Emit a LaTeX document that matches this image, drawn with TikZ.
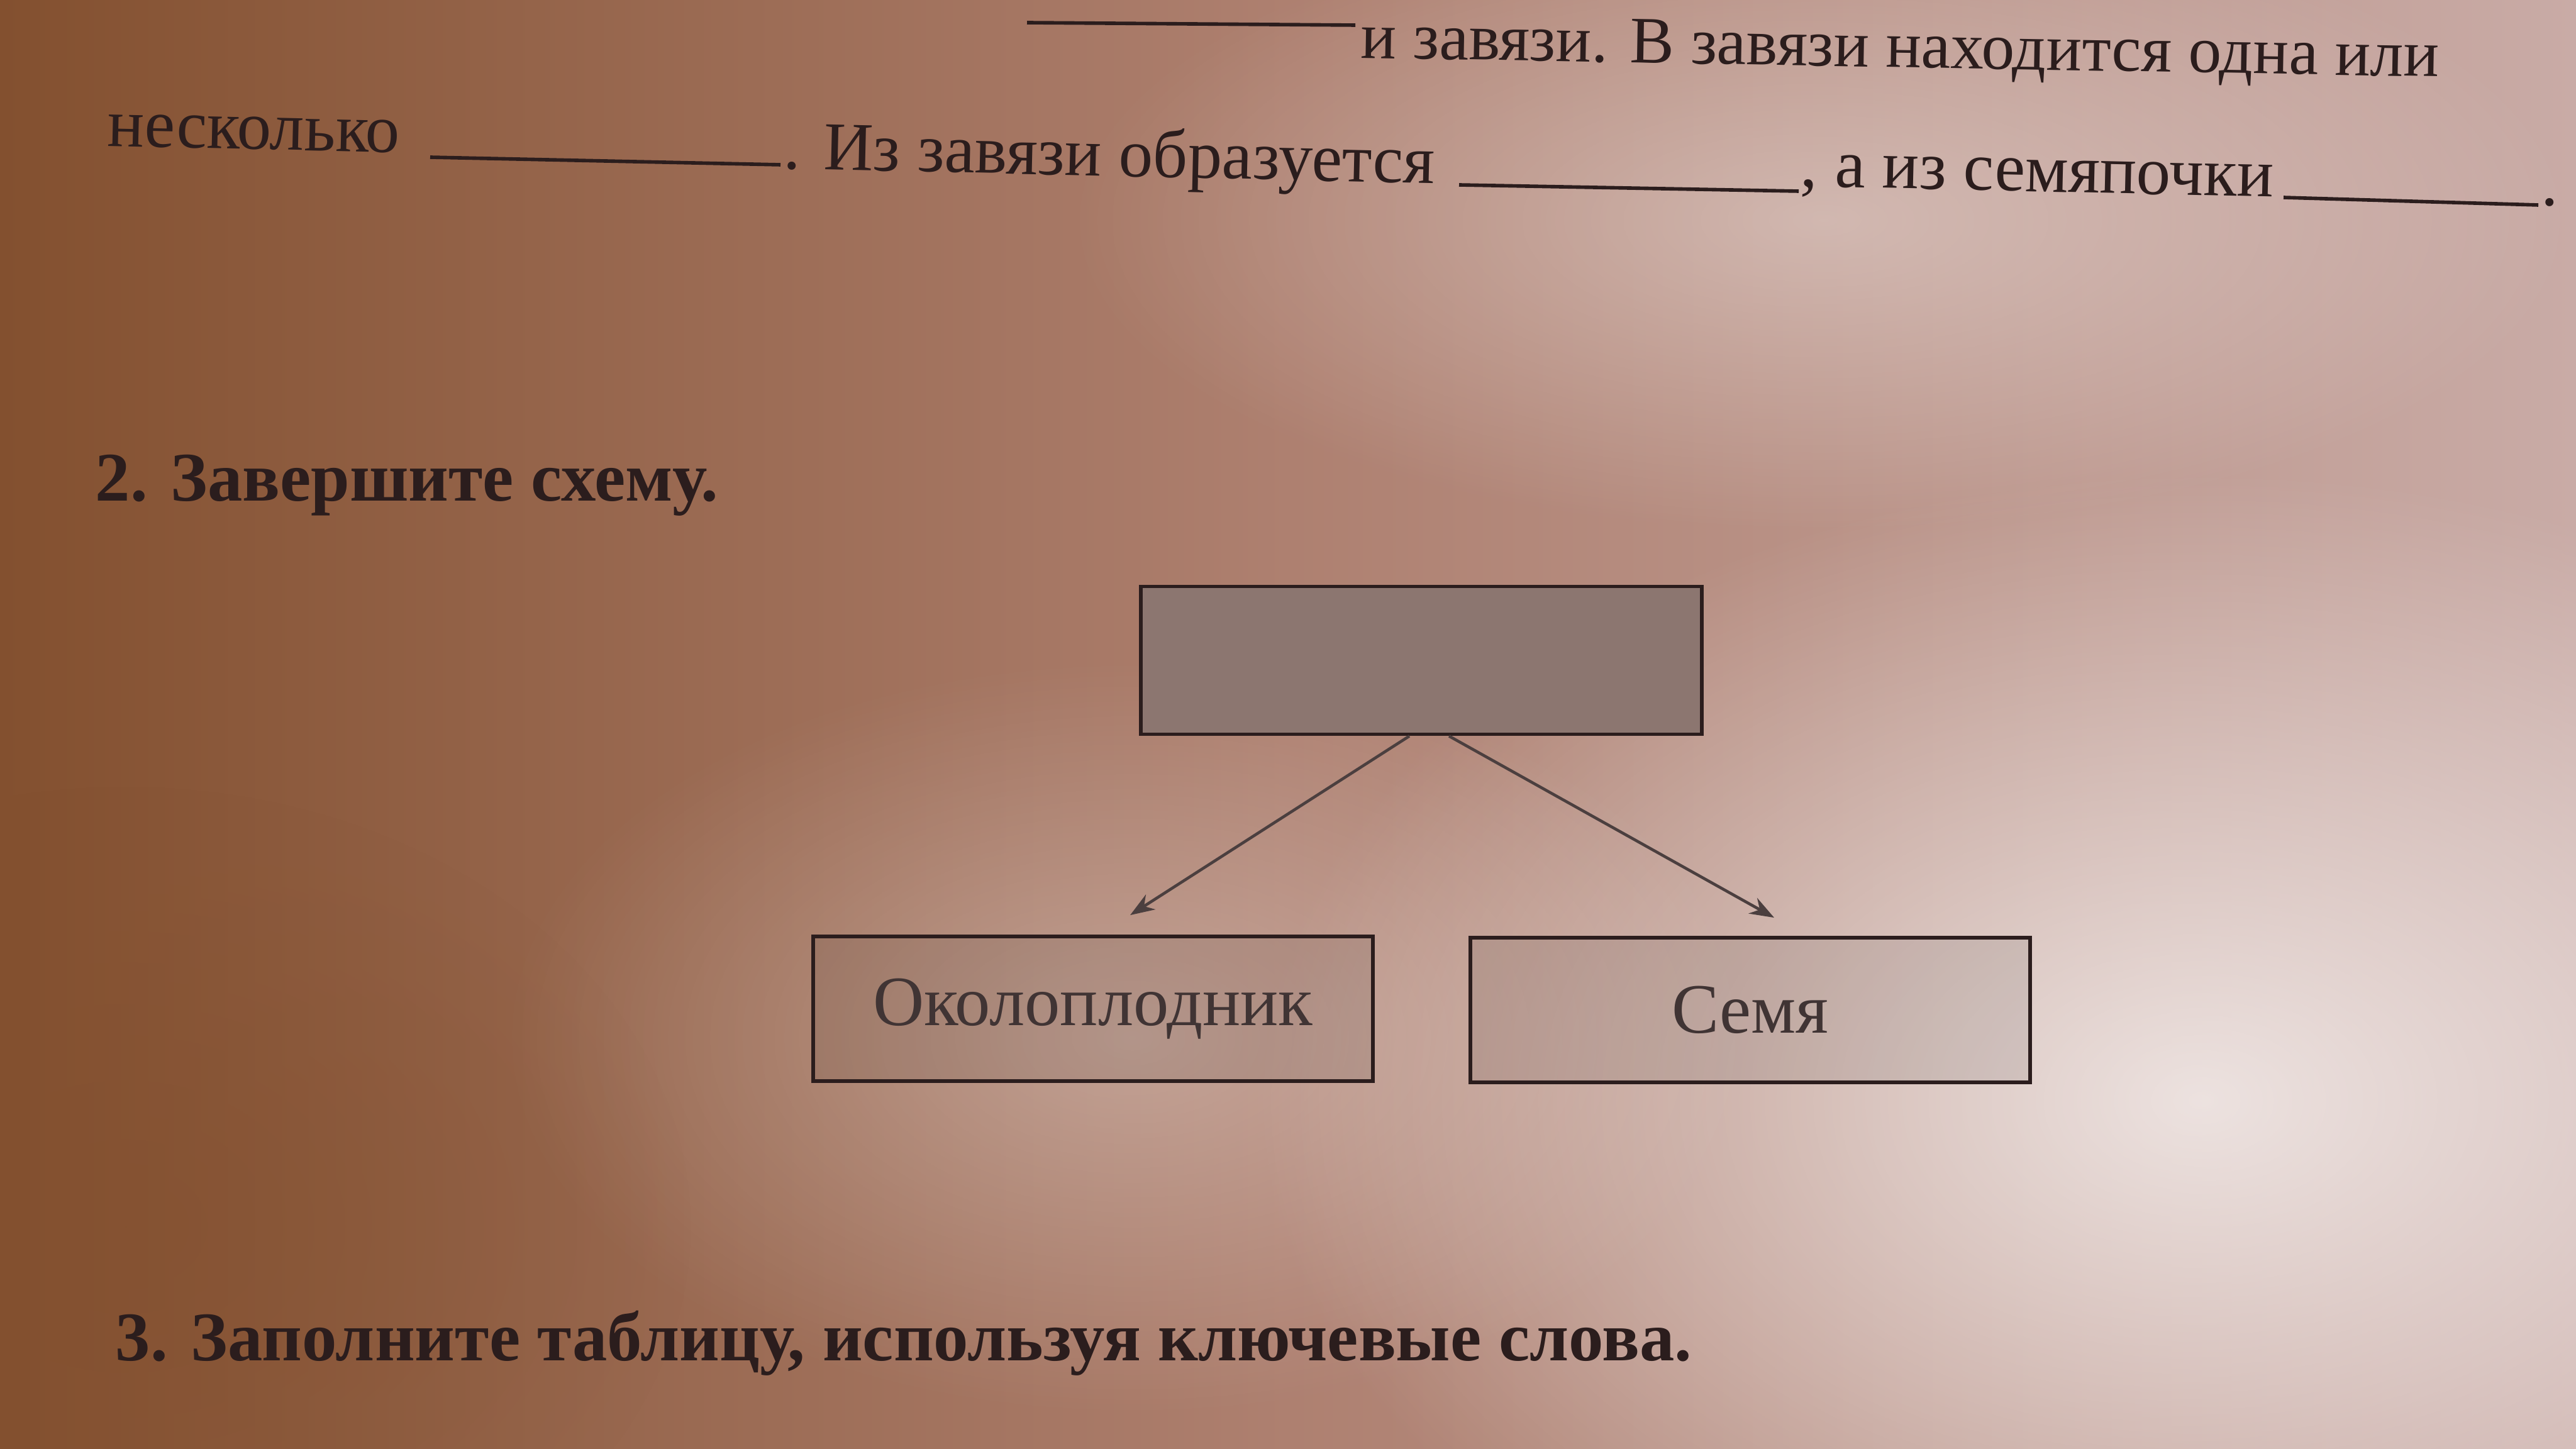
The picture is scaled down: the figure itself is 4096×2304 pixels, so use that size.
\documentclass[tikz,border=0pt]{standalone}
\usepackage{fontspec}
\setmainfont{Liberation Serif}
\usetikzlibrary{arrows.meta,fadings,calc}
\definecolor{ink}{HTML}{2B1D1D}
\definecolor{bgL}{HTML}{83502F}
\definecolor{bgM}{HTML}{AE8070}
\definecolor{bgR}{HTML}{C9ABA6}
\definecolor{topfill}{HTML}{8C7670}
\tikzfading[name=fuzzyC, inner color=transparent!0, outer color=transparent!100]
\tikzset{
  txt/.style={anchor=base west, inner sep=0pt, text=ink, font=\fontsize{31}{38}\selectfont},
  head/.style={txt, font=\fontsize{31.5}{38}\selectfont\bfseries},
  blank/.style={draw=ink, line width=1.6pt},
  boxtop/.style={draw=ink, line width=1.6pt, fill=topfill,
    minimum width=8.91cm, minimum height=2.35cm, inner sep=0pt},
  boxlow/.style={draw=ink, line width=1.6pt, fill=black, fill opacity=0.08, text opacity=1, text=ink!90,
    minimum width=8.9cm, minimum height=2.3cm, inner sep=0pt, font=\fontsize{32}{38}\selectfont},
  arr/.style={draw=ink!85, line width=1.3pt, -{Stealth[length=11pt,width=8pt]}}
}
\begin{document}
\begin{tikzpicture}[x=0.01cm,y=-0.01cm]
\useasboundingbox (0,0) rectangle (4096,2304);
% background
\fill[left color=bgL, right color=bgR, middle color=bgM] (0,0) rectangle (4096,2304);
\fill[white, fill opacity=0.7, path fading=fuzzyC] (3500,1750) ellipse (1500 and 1000);
\fill[white, fill opacity=0.3, path fading=fuzzyC] (1800,1650) ellipse (1000 and 600);
\fill[white, fill opacity=0.35, path fading=fuzzyC] (2900,350) ellipse (1200 and 500);
\fill[bgL, fill opacity=0.5, path fading=fuzzyC] (200,1950) ellipse (900 and 700);

% top line
\draw[blank] (1633,36) coordinate (t0) -- (2155,40) coordinate (t1);
\node[txt, font=\fontsize{30}{36}\selectfont, rotate=-1] (l1) at (2163,92) {и завязи. В завязи находится одна или};

% second line
\node[txt, rotate=-1.3] (l2a) at (170,232) {несколько};
\draw[blank] (684,250) coordinate (b1a) -- (1241,262) coordinate (b1b);
\node[txt, rotate=-1.3] (l2b) at (1245,268) {. Из завязи образуется};
\draw[blank] (2320,294) coordinate (b2a) -- (2860,304) coordinate (b2b);
\node[txt, rotate=-1.3] (l2c) at (2862,296) {, а из семяпочки};
\draw[blank] (3631,314) coordinate (b3a) -- (4036,326) coordinate (b3b);
\node[txt, rotate=-1.3] (l2d) at (4040,326) {.};

% heading 2
\node[head] (h2) at (151,797) {2. Завершите схему.};

% scheme
\node[boxtop] (top) at (2260,1050) {};
\node[boxlow] (left) at (1738,1604) {Околоплодник};
\node[boxlow] (right) at (2783,1606) {Семя};
\coordinate (eL) at ($(left.north)+(59,-31)$);
\coordinate (eR) at ($(right.north)+(38,-29)$);
\draw[arr] ($(top.south)+(-19,0)$) -- (eL);
\draw[arr] ($(top.south)+(44,0)$) -- (eR);

% heading 3
\node[head] (h3) at (183,2163) {3. Заполните таблицу, используя ключевые слова.};
\end{tikzpicture}
\end{document}
